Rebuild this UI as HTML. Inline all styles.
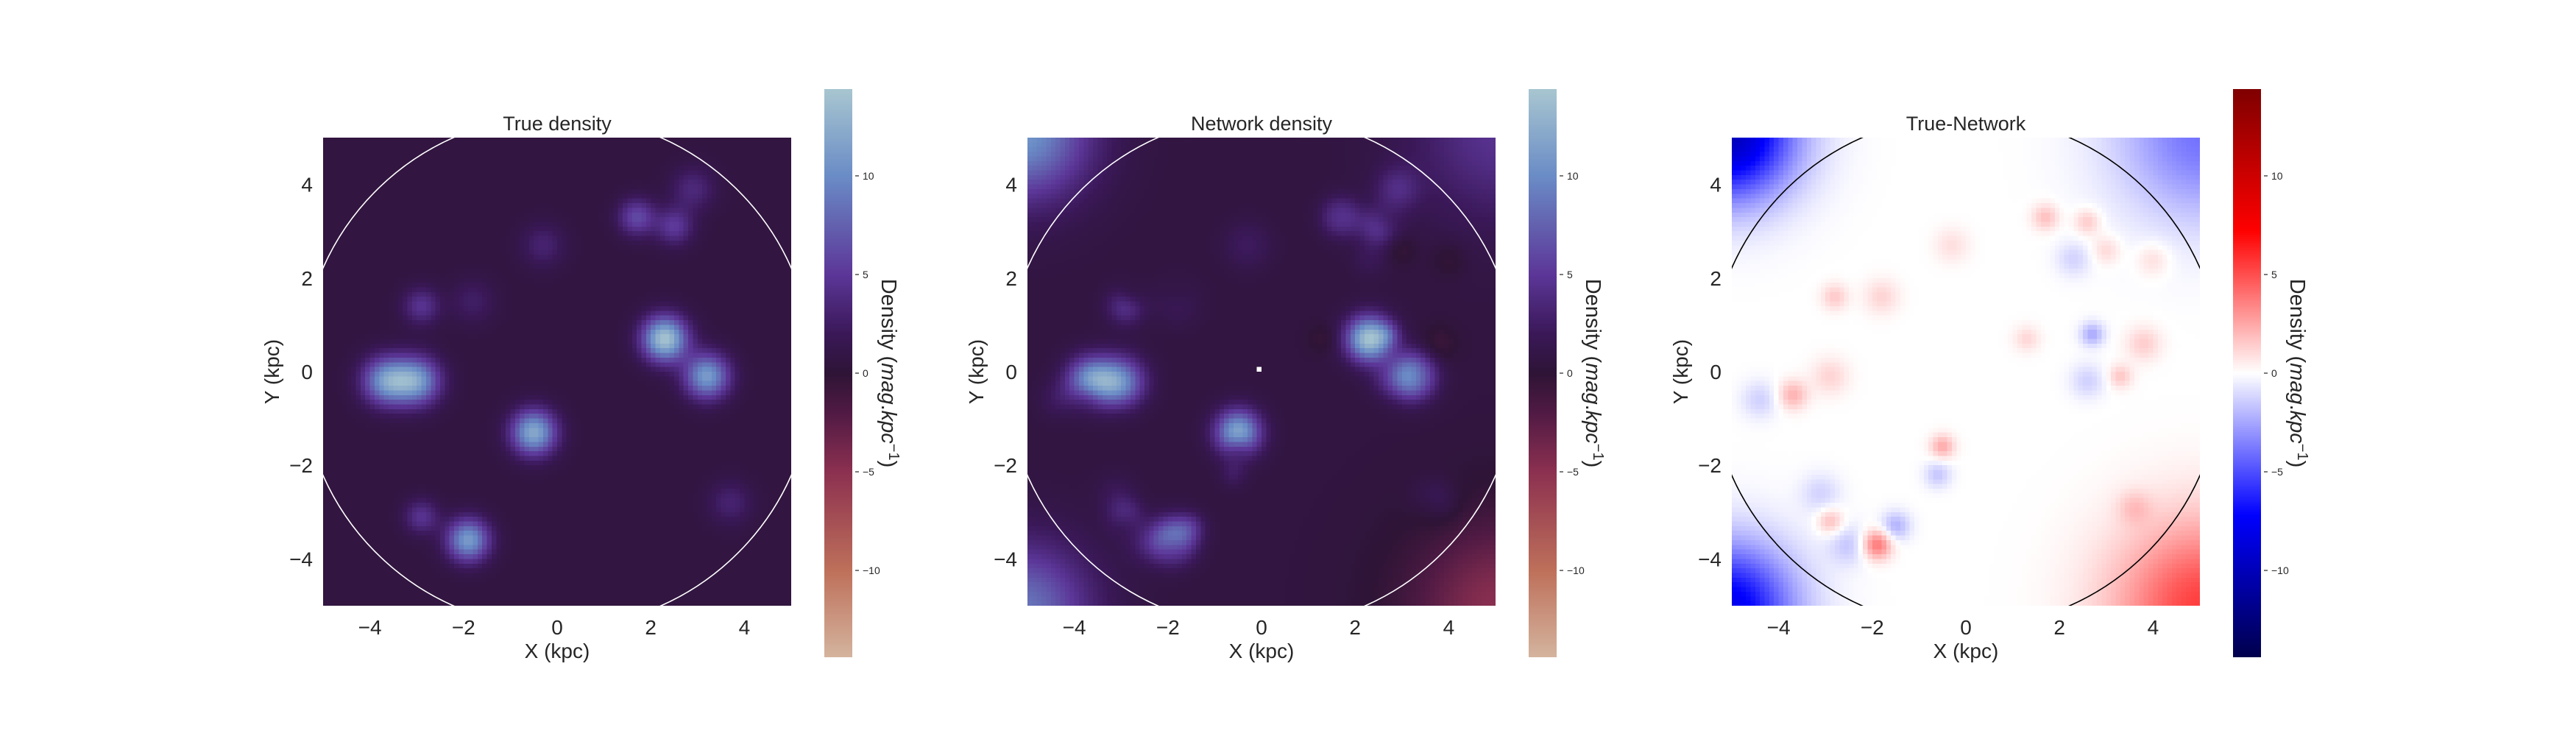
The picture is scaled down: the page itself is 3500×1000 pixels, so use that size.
<!DOCTYPE html>
<html><head><meta charset="utf-8">
<style>
html,body{margin:0;padding:0;background:#fff;}
#root{position:relative;width:3500px;height:1000px;overflow:hidden;font-family:"Liberation Sans",sans-serif;color:#262626;}
canvas{position:absolute;image-rendering:pixelated;}
svg{position:absolute;left:0;top:0;}
</style></head>
<body>
<div id="root">
<canvas id="c0" width="100" height="100" style="left:439px;top:187px;width:636px;height:636px"></canvas>
<canvas id="c1" width="100" height="100" style="left:1396px;top:187px;width:636px;height:636px"></canvas>
<canvas id="c2" width="100" height="100" style="left:2353px;top:187px;width:636px;height:636px"></canvas>
<canvas id="cb0" width="1" height="300" style="left:1120px;top:121px;width:38px;height:772px"></canvas>
<canvas id="cb1" width="1" height="300" style="left:2077px;top:121px;width:38px;height:772px"></canvas>
<canvas id="cb2" width="1" height="300" style="left:3034px;top:121px;width:38px;height:772px"></canvas>
<svg id="ov" width="3500" height="1000"></svg>
</div>
<script>
// ---- data ----
const xTicks = [-4, -2, 0, 2, 4];
const yTicks = [-4, -2, 0, 2, 4];
const cbTicks = [-10, -5, 0, 5, 10];
const titles = ["True density", "Network density", "True-Network"];
const circleRadius = 5.47;
const vLimit = 14.4;
const background = 0.6;
// true sources: x, y, amplitude, sigma
const srcX   = [-3.65, -3.0, 2.3, 3.2, -0.5, -1.9, -2.9, -2.9, -1.8, 1.7, 2.5, 2.9, -0.3, 3.7];
const srcY   = [-0.2, -0.2, 0.7, -0.1, -1.3, -3.6, -3.1, 1.4, 1.5, 3.3, 3.1, 3.9, 2.7, -2.8];
const srcAmp = [10, 10, 13.5, 10.5, 11.5, 10.5, 4, 4, 2, 5.5, 4.5, 3, 2.5, 2.5];
const srcSig = [0.36, 0.36, 0.34, 0.34, 0.34, 0.32, 0.26, 0.28, 0.33, 0.28, 0.28, 0.33, 0.33, 0.33];
// residuals (true - network) inside disc
const resX   = [-3.7, -4.4, -2.9, -2.8, -1.9, -1.5, -2.9, -3.1, -0.5, -0.6, 1.7, 2.6, 2.7, 3.3, 3.8, 2.3, -1.8, -0.3, 3.6, 1.3, 3.0, -2.5, 4.0, 2.6];
const resY   = [-0.5, -0.6, -3.2, 1.6, -3.7, -3.3, -0.1, -2.6, -1.6, -2.2, 3.3, 3.2, 0.8, -0.1, 0.6, 2.4, 1.6, 2.7, -2.9, 0.7, 2.6, -3.7, 2.4, -0.2];
const resAmp = [2.2, -1.3, 2.0, 1.5, 4.0, -2.2, 1.2, -1.2, 2.4, -1.6, 1.8, 1.6, -2.4, 1.6, 1.4, -1.2, 1.2, 0.9, 1.2, 1.1, 1.2, -1.5, 1.1, -1.3];
const resSig = [0.22, 0.28, 0.2, 0.2, 0.22, 0.22, 0.28, 0.3, 0.18, 0.2, 0.2, 0.2, 0.18, 0.18, 0.26, 0.26, 0.26, 0.26, 0.25, 0.2, 0.22, 0.3, 0.26, 0.26];
// network corner artefacts: corner x, y, amplitude, gaussian scale
const cornerX = [-5.1, 5.1, -5.1, 5.1];
const cornerY = [5.1, 5.1, -5.1, -5.1];
const cornerAmp = [10, 4, 8, -5.5];
const cornerScale = [1.0, 1.3, 1.0, 1.35];

// ---- helpers ----
const panelLeft = [439, 1396, 2353];
const top0 = 187, size = 636, xMin = -5, xMax = 5;
const cbLeft = [1120, 2077, 3034], cbTop = 121, cbH = 772;
function sx(i, v){ return panelLeft[i] + (v - xMin) / (xMax - xMin) * size; }
function sy(v){ return top0 + (xMax - v) / (xMax - xMin) * size; }
function cby(v){ return cbTop + (vLimit - v) / (2 * vLimit) * cbH; }

function gauss(x,y,X,Y,A,S){ let s=0; for(let k=0;k<X.length;k++){ const dx=x-X[k],dy=y-Y[k]; s+=A[k]*Math.exp(-(dx*dx+dy*dy)/(2*S[k]*S[k])); } return s; }
function trueF(x,y){ return background + gauss(x,y,srcX,srcY,srcAmp,srcSig); }
function cornerF(x,y){ return gauss(x,y,cornerX,cornerY,cornerAmp,cornerScale); }
function diffF(x,y){ return gauss(x,y,resX,resY,resAmp,resSig) - cornerF(x,y); }
function netF(x,y){ return trueF(x,y) - diffF(x,y); }

const twStops = [[-14.4,[212,180,158]],[-10,[190,112,90]],[-5,[140,48,80]],[-2,[80,26,68]],[0,[46,20,54]],[2,[58,24,88]],[5,[92,54,152]],[10,[106,140,198]],[14.4,[168,198,208]]];
const seStops = [[-14.4,[0,0,76]],[-7.2,[0,0,255]],[0,[255,255,255]],[7.2,[255,0,0]],[14.4,[127,0,0]]];
function cmap(stops,v){
  if(v<=stops[0][0]) return stops[0][1];
  for(let k=1;k<stops.length;k++){ if(v<=stops[k][0]){ const t=(v-stops[k-1][0])/(stops[k][0]-stops[k-1][0]); const a=stops[k-1][1],b=stops[k][1]; return [a[0]+(b[0]-a[0])*t,a[1]+(b[1]-a[1])*t,a[2]+(b[2]-a[2])*t]; } }
  return stops[stops.length-1][1];
}
function paint(id,f,stops){
  const c=document.getElementById(id), ctx=c.getContext('2d'), img=ctx.createImageData(100,100);
  for(let j=0;j<100;j++) for(let i=0;i<100;i++){
    const x=xMin+(i+0.5)/10, y=xMax-(j+0.5)/10;
    const col=cmap(stops,f(x,y)); const p=(j*100+i)*4;
    img.data[p]=col[0]; img.data[p+1]=col[1]; img.data[p+2]=col[2]; img.data[p+3]=255;
  }
  ctx.putImageData(img,0,0);
}
function paintCb(id,stops){
  const c=document.getElementById(id), ctx=c.getContext('2d'), img=ctx.createImageData(1,300);
  for(let j=0;j<300;j++){ const v=vLimit-(j+0.5)/300*2*vLimit; const col=cmap(stops,v); img.data[j*4]=col[0];img.data[j*4+1]=col[1];img.data[j*4+2]=col[2];img.data[j*4+3]=255; }
  ctx.putImageData(img,0,0);
}
paint('c0',trueF,twStops); paint('c1',netF,twStops); paint('c2',diffF,seStops);
paintCb('cb0',twStops); paintCb('cb1',twStops); paintCb('cb2',seStops);
{ // white center pixel in network map
  const ctx=document.getElementById('c1').getContext('2d'); ctx.fillStyle='#fff'; ctx.fillRect(49,49,1,1);
}

const NS='http://www.w3.org/2000/svg', ov=document.getElementById('ov');
function el(tag,attrs,text){ const e=document.createElementNS(NS,tag); for(const k in attrs) e.setAttribute(k,attrs[k]); if(text!==undefined) e.textContent=text; ov.appendChild(e); return e; }
const names=['true','network','difference'];
for(let p=0;p<3;p++){
  const cx=sx(p,0), cy=sy(0), r=circleRadius/(xMax-xMin)*size;
  const clipId='clip'+p;
  const cp=el('clipPath',{id:clipId}); const rc=document.createElementNS(NS,'rect');
  rc.setAttribute('x',panelLeft[p]);rc.setAttribute('y',top0);rc.setAttribute('width',size);rc.setAttribute('height',size);cp.appendChild(rc);
  const circ=el('circle',{cx:cx,cy:cy,r:r,fill:'none',stroke:p==2?'#000':'#fff','stroke-width':1.6,'clip-path':'url(#'+clipId+')'});
  
  
  const t=el('text',{x:cx,y:177,'text-anchor':'middle','font-size':27,fill:'#262626'},titles[p]);
  
  
  xTicks.forEach(v=>{
    const tl=el('text',{x:sx(p,v),y:862,'text-anchor':'middle','font-size':28,fill:'#262626'},v<0?'\u2212'+(-v):String(v));
    
    
  });
  yTicks.forEach(v=>{
    const tl=el('text',{x:panelLeft[p]-14,y:sy(v)+10,'text-anchor':'end','font-size':28,fill:'#262626'},v<0?'\u2212'+(-v):String(v));
    
    
  });
  const xl=el('text',{x:cx,y:894,'text-anchor':'middle','font-size':28,fill:'#262626'},'X (kpc)');
  
  
  const yl=el('text',{x:0,y:0,'text-anchor':'middle','font-size':28,fill:'#262626',transform:'translate('+(panelLeft[p]-60)+','+cy+') rotate(-90)'},'Y (kpc)');
  
  
  cbTicks.forEach(v=>{
    const y=cby(v);
    const tk=el('line',{x1:cbLeft[p]+42,x2:cbLeft[p]+47,y1:y,y2:y,stroke:'#262626','stroke-width':1.2});
    
    
    const tl=el('text',{x:cbLeft[p]+52,y:y+5,'font-size':14,fill:'#262626'},v<0?'\u2212'+(-v):String(v));
    
    
  });
  const cl=el('text',{x:0,y:0,'text-anchor':'middle','font-size':29,fill:'#262626',transform:'translate('+(cbLeft[p]+78)+','+cby(0)+') rotate(90)'});
  
  
  cl.innerHTML='Density (<tspan font-style="italic">mag</tspan>.<tspan font-style="italic">kpc</tspan><tspan dy="-10" font-size="20">\u22121</tspan><tspan dy="10">)</tspan>';
}
</script>
</body></html>
